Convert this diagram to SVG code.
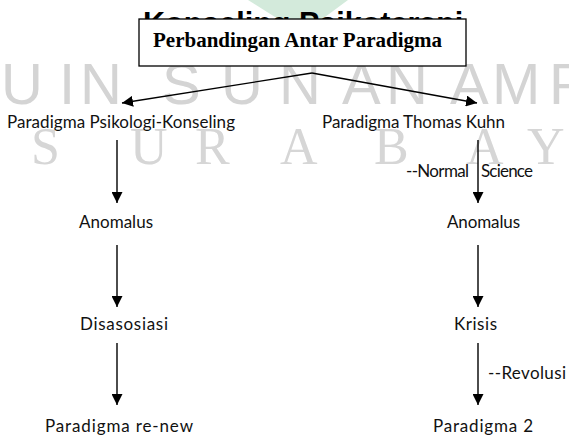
<svg xmlns="http://www.w3.org/2000/svg" width="569" height="436" viewBox="0 0 569 436">
<style>
.wm{font-family:"Liberation Sans",Arial,sans-serif;fill:#d4d4d4}
.wm2{font-family:"Liberation Serif","Times New Roman",serif;fill:#d6d6d6}
.lbl{font-family:Lato,"Noto Sans",sans-serif;font-size:17px;fill:#111}
.ttl{font-family:"Liberation Serif","Times New Roman",serif;font-size:21px;font-weight:bold;fill:#000}
.hd{font-family:"Liberation Sans",Arial,sans-serif;font-size:30.5px;font-weight:bold;fill:#000}
.ln{stroke:#000;stroke-width:1.4;fill:none;marker-end:url(#ah)}
</style>
<defs>
<marker id="ah" markerUnits="userSpaceOnUse" markerWidth="11" markerHeight="11" viewBox="0 0 10 10" refX="10" refY="5" orient="auto">
<path d="M0,0 L10,5 L0,10 z" fill="#000"/>
</marker>
</defs>
<rect width="569" height="436" fill="#fff"/>
<g id="watermark">
<polygon points="248,0 348,0 302,34" fill="#d3eadb"/>
<text class="wm" font-size="58" x="1 59 80 140 162 221 279 342 386 440 450 492 549" y="104">UIN SUNAN AMP</text>
<text class="wm2" font-size="52" x="31 80 130 170 195 240 280 330 374 420 466 500 527" y="164">S U R A B A Y</text>
</g>
<g id="heading"><text class="hd" x="143" y="34">Konseling Psikoterapi</text></g>
<g id="title">
<rect x="139" y="19" width="327" height="47" fill="#fff" stroke="#000" stroke-width="1.3"/>
<text class="ttl" x="153" y="47">Perbandingan Antar Paradigma</text>
</g>
<g id="connectors">
<path class="ln" d="M312,73 L122,103"/>
<path class="ln" d="M312,73 L477,103"/>
<path class="ln" d="M117,140 L117,203"/>
<path class="ln" d="M117,245 L117,307"/>
<path class="ln" d="M117,343 L117,405"/>
<path class="ln" d="M478,140 L478,203"/>
<path class="ln" d="M478,245 L478,307"/>
<path class="ln" d="M478,343 L478,405"/>
</g>
<g id="node-psikologi"><text class="lbl" x="7" y="128" textLength="228">Paradigma Psikologi-Konseling</text></g>
<g id="node-kuhn"><text class="lbl" x="322" y="128" textLength="183">Paradigma Thomas Kuhn</text></g>
<g id="label-normal"><text class="lbl" y="177"><tspan x="406" textLength="63">--Normal</tspan><tspan x="481" textLength="52">Science</tspan></text></g>
<g id="node-anomalus-l"><text class="lbl" x="79" y="228" textLength="74">Anomalus</text></g>
<g id="node-anomalus-r"><text class="lbl" x="447" y="228" textLength="73">Anomalus</text></g>
<g id="node-disasosiasi"><text class="lbl" x="80" y="330" textLength="88">Disasosiasi</text></g>
<g id="node-krisis"><text class="lbl" x="454" y="330" textLength="43">Krisis</text></g>
<g id="label-revolusi"><text class="lbl" x="488" y="379" textLength="78">--Revolusi</text></g>
<g id="node-renew"><text class="lbl" x="45" y="432" textLength="148">Paradigma re-new</text></g>
<g id="node-p2"><text class="lbl" x="433" y="432" textLength="100">Paradigma 2</text></g>
</svg>
